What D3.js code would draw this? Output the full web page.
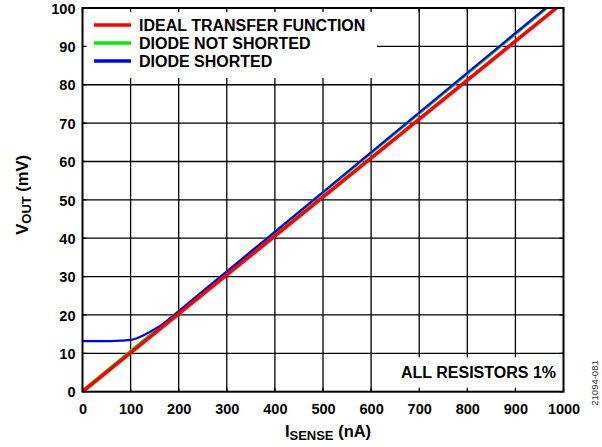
<!DOCTYPE html>
<html>
<head>
<meta charset="utf-8">
<script src="https://cdn.jsdelivr.net/npm/d3@7"></script>
<style>
  html, body { margin: 0; padding: 0; background: #fff; }
  svg { display: block; font-family: "Liberation Sans", Arial, sans-serif; }
</style>
</head>
<body>
<svg id="chart" width="602" height="447"></svg>
<script>
// Axis ticks
const xTicks = [0, 100, 200, 300, 400, 500, 600, 700, 800, 900, 1000];
const yTicks = [0, 10, 20, 30, 40, 50, 60, 70, 80, 90, 100];

// Ideal transfer function (nA -> mV)
const idealSense = [0, 1000];
const idealVout  = [0, 101.5];

// Diode not shorted
const openSense = [0, 1000];
const openVout  = [0.2, 103.6];

// Diode shorted: output floor near 13 mV at low current
const shortSense = [0, 20, 40, 60, 80, 100, 110, 120, 130, 140, 150, 160, 170, 180, 190, 200, 300, 1000];
const shortVout  = [13.2, 13.2, 13.2, 13.2, 13.3, 13.5, 13.8, 14.3, 14.9, 15.6, 16.3, 17.0, 17.9, 18.85, 19.9, 20.95, 31.3, 103.8];

const legendNames  = ["IDEAL TRANSFER FUNCTION", "DIODE NOT SHORTED", "DIODE SHORTED"];
const legendColors = ["#ff0000", "#00ee00", "#0000ff"];

const svg = d3.select("#chart");
const L = 82.5, R = 563.5, T = 8, B = 391.7;

const x = d3.scaleLinear().domain([0, 1000]).range([L, R]);
const y = d3.scaleLinear().domain([0, 100]).range([B, T]);

// Grid
const grid = svg.append("g").attr("stroke", "#000").attr("stroke-width", 1.3);
grid.selectAll("line.v").data(xTicks.slice(1, -1)).join("line")
  .attr("x1", d => x(d)).attr("x2", d => x(d)).attr("y1", T).attr("y2", B);
grid.selectAll("line.h").data(yTicks.slice(1, -1)).join("line")
  .attr("y1", d => y(d)).attr("y2", d => y(d)).attr("x1", L).attr("x2", R);

// Curves
svg.append("clipPath").attr("id", "plotclip")
  .append("rect").attr("x", L).attr("y", T).attr("width", R - L).attr("height", B - T);

function series(sense, vout) { return sense.map((s, i) => [s, vout[i]]); }
const line = d3.line().x(d => x(d[0])).y(d => y(d[1])).curve(d3.curveMonotoneX);

const curves = svg.append("g").attr("clip-path", "url(#plotclip)").attr("fill", "none");
curves.append("path").datum(series(openSense, openVout))
  .attr("d", line).attr("stroke", legendColors[1]).attr("stroke-width", 3.2);
curves.append("path").datum(series(shortSense, shortVout))
  .attr("d", line).attr("stroke", legendColors[2]).attr("stroke-width", 2.2);
curves.append("path").datum(series(idealSense, idealVout))
  .attr("d", line).attr("stroke", legendColors[0]).attr("stroke-width", 3.6);

// Legend panel
svg.append("rect").attr("x", L + 1).attr("y", T).attr("width", 377 - L - 1).attr("height", 78 - T).attr("fill", "#fff");
const leg = svg.append("g");
legendNames.forEach((name, i) => {
  const ly = 25 + i * 18;
  leg.append("line").attr("x1", 94).attr("x2", 131).attr("y1", ly).attr("y2", ly)
    .attr("stroke", legendColors[i]).attr("stroke-width", 3.5);
  leg.append("text").attr("x", 139).attr("y", ly).attr("dy", "0.36em")
    .attr("font-size", 16).attr("font-weight", "bold").text(name);
});

// Note panel
svg.append("rect").attr("x", 383).attr("y", y(10) + 4).attr("width", R - 383).attr("height", B - y(10) - 4).attr("fill", "#fff");
svg.append("text").attr("x", 556).attr("y", 378).attr("text-anchor", "end")
  .attr("font-size", 16).attr("font-weight", "bold").text("ALL RESISTORS 1%");

// Frame and inward ticks
const ax = svg.append("g").attr("stroke", "#000");
ax.selectAll("line.tt").data(xTicks).join("line").attr("stroke-width", 1.3)
  .attr("x1", d => x(d)).attr("x2", d => x(d)).attr("y1", T).attr("y2", T + 4);
ax.selectAll("line.tb").data(xTicks).join("line").attr("stroke-width", 1.3)
  .attr("x1", d => x(d)).attr("x2", d => x(d)).attr("y1", B - 4).attr("y2", B);
ax.selectAll("line.tl").data(yTicks).join("line").attr("stroke-width", 1.3)
  .attr("y1", d => y(d)).attr("y2", d => y(d)).attr("x1", L).attr("x2", L + 4);
ax.selectAll("line.tr").data(yTicks).join("line").attr("stroke-width", 1.3)
  .attr("y1", d => y(d)).attr("y2", d => y(d)).attr("x1", R - 4).attr("x2", R);
ax.append("rect").attr("x", L).attr("y", T).attr("width", R - L).attr("height", B - T)
  .attr("fill", "none").attr("stroke-width", 2);

// Tick labels
const xAxis = d3.axisBottom(x).tickValues(xTicks).tickFormat(d3.format("d")).tickSize(0).tickPadding(0);
const gx = svg.append("g").attr("transform", `translate(0,${B})`).call(xAxis);
gx.select(".domain").remove();
gx.selectAll("text").attr("y", 22).attr("dy", null)
  .attr("font-size", 14.5).attr("font-weight", "bold").attr("font-family", "Liberation Sans, Arial, sans-serif").attr("fill", "#000");

const yAxis = d3.axisLeft(y).tickValues(yTicks).tickFormat(d3.format("d")).tickSize(0).tickPadding(0);
const gy = svg.append("g").attr("transform", `translate(${L},0)`).call(yAxis);
gy.select(".domain").remove();
gy.selectAll("text").attr("x", -7).attr("dy", "0.36em")
  .attr("font-size", 14.5).attr("font-weight", "bold").attr("font-family", "Liberation Sans, Arial, sans-serif").attr("fill", "#000");

// Axis titles
const xt = svg.append("text").attr("x", (L + R) / 2 + 5).attr("y", 437).attr("text-anchor", "middle")
  .attr("font-size", 16.5).attr("font-weight", "bold");
xt.append("tspan").text("I");
xt.append("tspan").attr("font-size", 13).attr("dy", 3).text("SENSE");
xt.append("tspan").attr("dy", -3).text(" (nA)");

const yt = svg.append("text").attr("transform", `translate(28,${(T + B) / 2 - 5}) rotate(-90)`)
  .attr("text-anchor", "middle").attr("font-size", 16.5).attr("font-weight", "bold");
yt.append("tspan").text("V");
yt.append("tspan").attr("font-size", 13).attr("dy", 3).text("OUT");
yt.append("tspan").attr("dy", -3).text(" (mV)");

// Figure code
svg.append("text").attr("transform", "translate(598,383) rotate(-90)").attr("text-anchor", "middle")
  .attr("font-size", 9.5).attr("fill", "#333").text("21094-081");
</script>
</body>
</html>
